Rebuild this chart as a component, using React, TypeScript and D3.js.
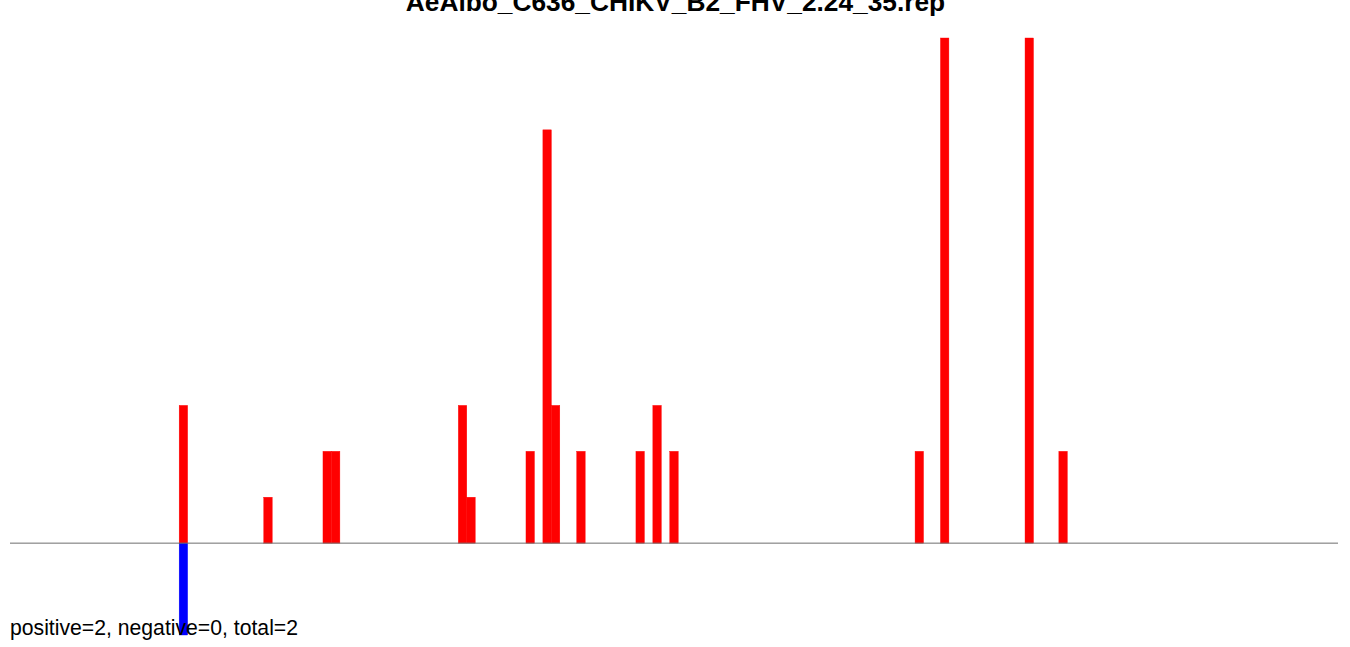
import React from "react";
import * as d3 from "d3";

const title = "AeAlbo_C636_CHIKV_B2_FHV_2.24_35.rep";
const footer = "positive=2, negative=0, total=2";

// bin index along the sequence (0..157) and read counts
const positivePositions = [20, 30, 37, 38, 53, 54, 61, 63, 64, 67, 74, 76, 78, 107, 110, 120, 124];
const positiveCounts = [3, 1, 2, 2, 3, 1, 2, 9, 3, 2, 2, 3, 2, 2, 11, 11, 2];
const negativePositions = [20];
const negativeCounts = [2];

const binCount = 157;
const yMax = 11;
const yMin = -2;

export default function App() {
  const width = 1350;
  const height = 647;
  const x = d3.scaleLinear().domain([0, binCount]).range([10, 1338]);
  const y = d3.scaleLinear().domain([yMin, yMax]).range([635, 38]);
  const bw = x(1) - x(0);

  return (
    <svg
      width={width}
      height={height}
      style={{ position: "absolute", left: 0, top: 0, background: "#fff" }}
    >
      <text
        x={675.5}
        y={11}
        textAnchor="middle"
        fontFamily="Liberation Sans, Arial, sans-serif"
        fontWeight="bold"
        fontSize={26.3}
        fill="#000"
      >
        {title}
      </text>
      {positivePositions.map((p, i) => (
        <rect
          key={"p" + i}
          x={x(p)}
          y={y(positiveCounts[i])}
          width={bw}
          height={y(0) - y(positiveCounts[i])}
          fill="#ff0000"
          stroke="#ff0000"
          strokeWidth={0.4}
        />
      ))}
      {negativePositions.map((p, i) => (
        <rect
          key={"n" + i}
          x={x(p)}
          y={y(0)}
          width={bw}
          height={y(-negativeCounts[i]) - y(0)}
          fill="#0000ff"
          stroke="#0000ff"
          strokeWidth={0.4}
        />
      ))}
      <line
        x1={x(0)}
        x2={x(binCount)}
        y1={y(0)}
        y2={y(0)}
        stroke="#6e6e6e"
        strokeWidth={1}
      />
      <text
        x={10}
        y={635}
        fontFamily="Liberation Sans, Arial, sans-serif"
        fontSize={21.2}
        fill="#000"
      >
        {footer}
      </text>
    </svg>
  );
}
